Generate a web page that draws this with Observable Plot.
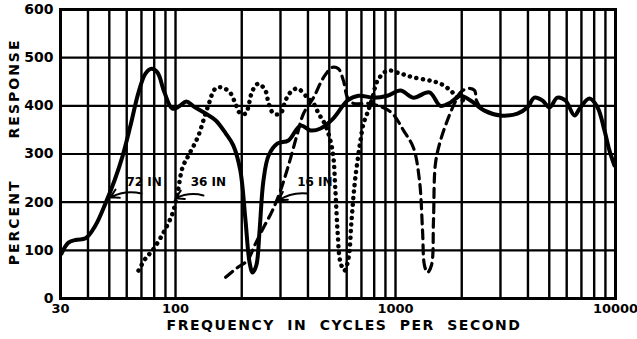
<!DOCTYPE html>
<html><head><meta charset="utf-8">
<script src="https://cdn.jsdelivr.net/npm/d3@7"></script>
<script src="https://cdn.jsdelivr.net/npm/@observablehq/plot@0.6"></script>
<style>body{margin:0;background:#fff;}</style>
</head><body><div id="chart"></div>
<script>
// Grid and tick values
const gridFreqs = [30,40,50,60,70,80,90,100,200,300,400,500,600,700,800,900,1000,2000,3000,4000,5000,6000,7000,8000,9000,10000];
const xTicks = [30,100,1000,10000];
const yTicks = [0,100,200,300,400,500,600];

// 72 IN (solid)
const solidFreq = [30.3,32.6,35.5,39,43.3,48,52.8,57.4,62.4,67.9,73,77.8,82.8,89,96.8,104,112,120.7,137,152,169,183,197,208,217,224,233,241,251,265,291,326,370,411,456,522,605,678,794,919,1053,1206,1426,1601,1778,1974,2192,2538,3000,3585,3981,4280,4656,5010,5448,5925,6508,6931,7615,8280,8910,9390,9890];
const solidResp = [93,116,122,125,152,197,245,295,359,428,467,477,469,428,394,399,409,399,384,370,343,318,266,162,75,54,69,141,245,297,322,328,359,349,353,374,411,421,417,421,432,417,428,400,407,421,411,390,380,384,397,417,411,397,417,411,380,397,415,397,349,307,276];

// 36 IN (dotted)
const dottedFreq = [67.9,73,78.6,88.2,96.8,102,107.6,114.5,126,140,152,163.5,178,187,197,208,224,238,256,265,279,300,316,333,358,398,424,447,481,517,533,545,562,586,611,631,651,672,693,715,746,786,828,919,1053,1206,1443,1601,1778,1913,2037];
const dottedResp = [58,83,100,137,176,218,272,297,334,397,436,438,426,405,384,384,432,446,432,405,384,384,411,428,436,417,405,384,359,307,224,141,75,58,83,162,235,286,328,363,386,417,452,473,467,459,452,446,432,417,411];

// 16 IN (dashed)
const dashedFreq = [169,191,212,231,251,276,300,326,358,382,424,471,517,550,580,605,644,746,872,969,1087,1206,1285,1327,1354,1398,1457,1488,1519,1601,1722,1854,1974,2125,2286,2334,2485];
const dashedResp = [44,64,79,114,147,183,224,276,342,384,417,459,480,477,452,417,405,405,397,384,349,313,245,141,69,54,69,162,280,328,370,405,428,436,432,411,390];

// Annotations
const annLabels = ["72 IN","36 IN","16 IN"];
const annFreq = [72,141,430];
const annResp = [241,241,241];
const arrowFromFreq = [70,134,400];
const arrowFromResp = [218,214,218];
const arrowToFreq = [50.6,100,294];
const arrowToResp = [210,208,204];

const toRows = (fs, rs) => fs.map((f, i) => ({f, r: rs[i]}));

const chart = Plot.plot({
  width: 637, height: 339,
  marginLeft: 60, marginRight: 22, marginTop: 9, marginBottom: 41,
  style: {fontFamily: "'DejaVu Sans', sans-serif", fontWeight: "bold", fontSize: "13px", background: "#fff", color: "#000"},
  x: {type: "log", domain: [30, 10000]},
  y: {domain: [0, 600]},
  marks: [
    Plot.ruleX(gridFreqs, {stroke: "#000", strokeWidth: 2.4}),
    Plot.ruleY(yTicks, {stroke: "#000", strokeWidth: 2.2}),
    Plot.frame({stroke: "#000", strokeWidth: 3}),
    Plot.axisY({ticks: yTicks, tickSize: 0, tickPadding: 7, label: null, tickFormat: d => String(d), fontWeight: "bold", fontSize: 14}),
    Plot.axisX({ticks: xTicks, tickSize: 0, tickPadding: 5, label: null, tickFormat: d => String(d), fontWeight: "bold", fontSize: 13}),
    Plot.line(toRows(solidFreq, solidResp), {x: "f", y: "r", stroke: "#000", strokeWidth: 4, curve: "catmull-rom", strokeLinejoin: "round"}),
    Plot.line(toRows(dottedFreq, dottedResp), {x: "f", y: "r", stroke: "#000", strokeWidth: 4.5, curve: "catmull-rom", strokeDasharray: "0.1 6.5", strokeLinecap: "round"}),
    Plot.line(toRows(dashedFreq, dashedResp), {x: "f", y: "r", stroke: "#000", strokeWidth: 3.2, curve: "catmull-rom", strokeDasharray: "9 6"}),
    Plot.arrow(annLabels, {x1: arrowFromFreq, y1: arrowFromResp, x2: arrowToFreq, y2: arrowToResp, bend: -20, stroke: "#000", strokeWidth: 2, headLength: 7}),
    Plot.text(annLabels, {x: annFreq, y: annResp, text: d => d, fontSize: 12, fontWeight: "bold", fill: "#000"}),
    Plot.text(["FREQUENCY IN CYCLES PER SECOND"], {frameAnchor: "bottom", dx: 6, dy: 31, fontSize: 14, fontWeight: "bold", fill: "#000"}),
    Plot.text(["RESPONSE"], {frameAnchor: "left", y: [436], dx: -46, rotate: -90, textAnchor: "middle", fontSize: 14, fontWeight: "bold", fill: "#000"}),
    Plot.text(["PERCENT"], {frameAnchor: "left", y: [158], dx: -46, rotate: -90, textAnchor: "middle", fontSize: 14, fontWeight: "bold", fill: "#000"})
  ]
});
document.getElementById("chart").appendChild(chart);
chart.querySelectorAll("text").forEach(t => {
  if (t.textContent === "FREQUENCY IN CYCLES PER SECOND") { t.style.letterSpacing = "1.5px"; t.style.wordSpacing = "6px"; }
  if (t.textContent === "RESPONSE" || t.textContent === "PERCENT") { t.style.letterSpacing = "2px"; }
});
</script>
</body></html>
